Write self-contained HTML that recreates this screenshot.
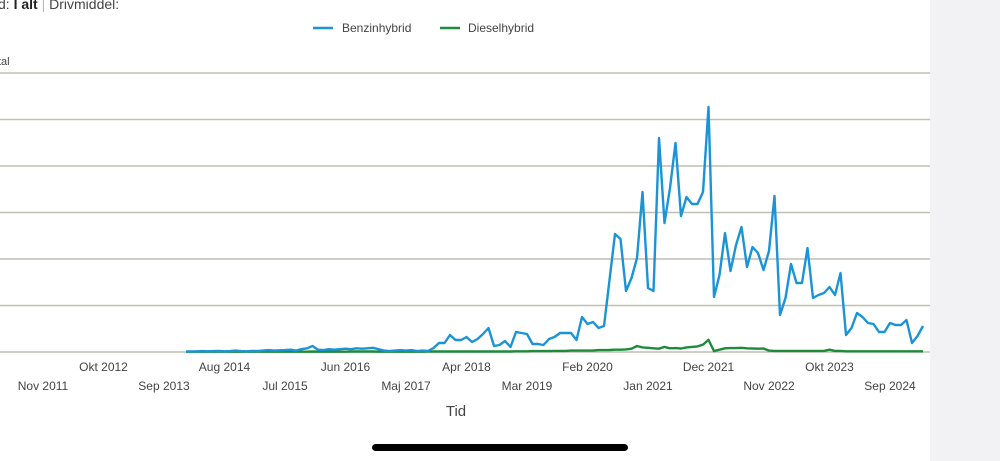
<!DOCTYPE html>
<html><head><meta charset="utf-8"><style>
html,body{margin:0;padding:0;background:#fff;}
body{width:1000px;height:461px;overflow:hidden;position:relative;font-family:"Liberation Sans",Arial,sans-serif;}
svg{position:absolute;left:0;top:0;}
</style></head><body>
<svg width="1000" height="461" viewBox="0 0 1000 461">
<rect x="930" y="0" width="70" height="461" fill="#f2f2f4"/>
<text x="-2" y="9" font-size="14" fill="#444">d: <tspan font-weight="bold" fill="#222">I alt</tspan> <tspan fill="#bbb">|</tspan> Drivmiddel:</text>
<g>
<g><line x1="313" y1="28" x2="333" y2="28" stroke="#1a94d6" stroke-width="2.5"/><text x="342" y="32" font-size="12" fill="#444">Benzinhybrid</text></g>
<g><line x1="440" y1="28" x2="460" y2="28" stroke="#1e8a3a" stroke-width="2.5"/><text x="468" y="32" font-size="12" fill="#444">Dieselhybrid</text></g>
</g>
<text x="-2" y="65" font-size="11" fill="#444">tal</text>
<g id="grid"></g>
<g id="xlabels"></g>
<g id="series"></g>
<text x="456" y="416" font-size="15" fill="#444" text-anchor="middle">Tid</text>
<rect x="372" y="444" width="256" height="7" rx="3.5" fill="#000"/>
</svg>
<script>
const tickLabels=["Nov 2011","Okt 2012","Sep 2013","Aug 2014","Jul 2015","Jun 2016","Maj 2017","Apr 2018","Mar 2019","Feb 2020","Jan 2021","Dec 2021","Nov 2022","Okt 2023","Sep 2024"];
const yTicks=[0,500,1000,1500,2000,2500,3000];
const benzin=[5,5,8,10,8,10,12,8,10,15,10,8,12,10,15,20,15,18,20,25,15,30,40,65,25,20,30,25,30,35,30,40,35,40,45,30,15,10,15,20,15,20,10,15,
11,43,97,97,183,129,129,161,108,140,194,258,65,75,118,54,215,204,194,86,86,75,140,161,204,204,204,129,376,301,323,258,280,
774,
1269,1215,656,796,1010,1720,688,656,2301,1387,1763,2247,1462,1666,1591,1591,1720,2634,591,828,1279,871,1150,1344,914,1129,
1064,882,1086,1677,398,581,946,742,742,1118,581,613,634,699,613,849,183,258,419,376,312,301,215,215,312,290,290,344,97,172,280];
const diesel=[3,3,3,3,3,3,3,3,3,3,3,3,3,3,3,3,3,3,3,3,3,3,3,5,3,3,3,3,3,3,5,5,5,5,5,3,3,3,3,3,3,3,3,3,
5,5,5,5,5,5,5,5,5,5,5,5,5,5,5,5,8,8,8,10,10,10,10,12,12,12,15,15,15,15,15,
20,20,22,25,25,28,35,65,50,45,40,35,55,40,42,38,50,55,60,80,130,10,25,40,42,42,45,40,38,35,38,15,
12,12,12,12,12,12,12,12,12,12,25,12,12,8,8,8,8,8,8,8,8,8,8,8,8,8,8,8];
const NS="http://www.w3.org/2000/svg";
const firstMonth=26; // Jan 2014 relative to Nov 2011
const xScale=m=>43+5.5*m;
const yScale=v=>352-v*(46.5/500);
const grid=document.getElementById('grid');
yTicks.forEach(t=>{const l=document.createElementNS(NS,'line');
l.setAttribute('x1',0);l.setAttribute('x2',930);l.setAttribute('y1',yScale(t));l.setAttribute('y2',yScale(t));
l.setAttribute('stroke','#bfbfb4');l.setAttribute('stroke-width','1.4');


grid.appendChild(l);});
const xl=document.getElementById('xlabels');
tickLabels.forEach((t,i)=>{const e=document.createElementNS(NS,'text');
e.setAttribute('x',xScale(i*11));e.setAttribute('y',i%2?371:390);
e.setAttribute('font-size','12');e.setAttribute('fill','#444');e.setAttribute('text-anchor','middle');
e.textContent=t;


xl.appendChild(e);});
const sg=document.getElementById('series');
function draw(vals,color,name){const p=document.createElementNS(NS,'polyline');
p.setAttribute('points',vals.map((v,i)=>xScale(firstMonth+i).toFixed(1)+','+yScale(v).toFixed(1)).join(' '));
p.setAttribute('fill','none');p.setAttribute('stroke',color);p.setAttribute('stroke-width','2.4');p.setAttribute('stroke-linejoin','round');


sg.appendChild(p);}
draw(diesel,'#1e8a3a','dieselhybrid-line');
draw(benzin,'#1a94d6','benzinhybrid-line');
</script>
</body></html>
